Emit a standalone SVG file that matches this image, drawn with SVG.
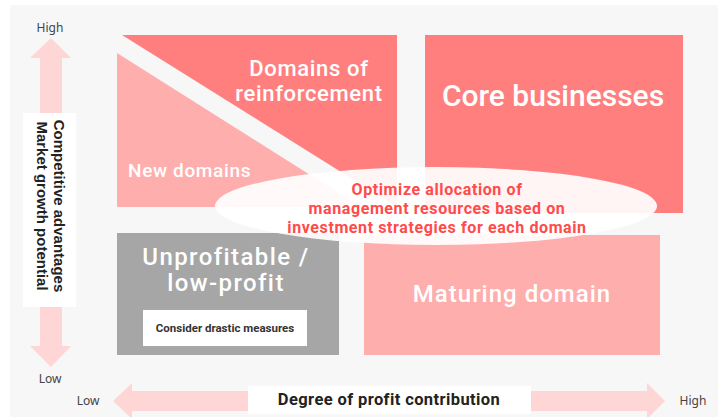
<svg xmlns="http://www.w3.org/2000/svg" width="718" height="417" viewBox="0 0 718 417">
<style>
.t{font-family:Roboto,"Noto Sans","Liberation Sans",sans-serif}
.w{fill:#ffffff;font-weight:500}
.ax{fill:#444444;font-size:12px;font-family:"Noto Sans","Liberation Sans",sans-serif}
.arrow{fill:#ffd6d6}
.dark{fill:#ff7f7f}
.light{fill:#ffaeae}
</style>
<rect x="10" y="5" width="708" height="412" fill="#f7f7f7"/>
<g id="arrows">
<polygon class="arrow" points="51,38 71,58 62,58 62,346 71,346 51,367 30,346 40,346 40,58 30,58"/>
<polygon class="arrow" points="113,401 132,383 132,391 647,391 647,383 665,401 647,419 647,411 132,411 132,419"/>
</g>
<g id="y-axis-label">
<rect x="23" y="113" width="53" height="194" fill="#ffffff"/>
<text transform="translate(54,206) rotate(90)" text-anchor="middle" font-family="Liberation Sans, Arial, sans-serif" font-size="15" font-weight="bold" fill="#222222"><tspan x="0" y="0">Competitive advantages</tspan><tspan x="0" y="17">Market growth potential</tspan></text>
</g>
<g id="x-axis-label">
<rect x="248" y="386" width="283" height="28" fill="#ffffff"/>
<text class="t" x="389" y="405" text-anchor="middle" font-size="16.5" font-weight="bold" letter-spacing="0.4" fill="#222222">Degree of profit contribution</text>
</g>
<text class="ax" x="50" y="32" text-anchor="middle">High</text>
<text class="ax" x="50" y="383" text-anchor="middle">Low</text>
<text class="ax" x="88" y="405" text-anchor="middle">Low</text>
<text class="ax" x="693" y="405" text-anchor="middle">High</text>
<g id="reinforcement">
<polygon class="dark" points="122,35 397,35 397,207"/>
<text class="t w" x="309" y="76" text-anchor="middle" font-size="22" letter-spacing="0.65">Domains of</text>
<text class="t w" x="309" y="101" text-anchor="middle" font-size="22" letter-spacing="0.65">reinforcement</text>
</g>
<g id="new-domains">
<polygon class="light" points="117,53 117,207 361,207"/>
<text class="t w" x="128" y="177" font-size="19" letter-spacing="0.65">New domains</text>
</g>
<g id="core">
<rect class="dark" x="425" y="35" width="258" height="178"/>
<text class="t w" x="553" y="106" text-anchor="middle" font-size="30">Core businesses</text>
</g>
<g id="unprofitable">
<rect x="117" y="233" width="222" height="122" fill="#a6a6a6"/>
<text class="t w" x="226" y="265" text-anchor="middle" font-size="24" letter-spacing="1.4">Unprofitable /</text>
<text class="t w" x="226" y="291" text-anchor="middle" font-size="24" letter-spacing="1.4">low-profit</text>
<rect x="143" y="310" width="164" height="36" fill="#ffffff"/>
<text class="t" x="225" y="332" text-anchor="middle" font-size="11.5" font-weight="bold" fill="#333333">Consider drastic measures</text>
</g>
<g id="maturing">
<rect class="light" x="364" y="235" width="296" height="120"/>
<text class="t w" x="512" y="302" text-anchor="middle" font-size="24" letter-spacing="1">Maturing domain</text>
</g>
<g id="optimize">
<ellipse cx="436" cy="206" rx="221" ry="39" fill="#ffffff" fill-opacity="0.92"/>
<text class="t" text-anchor="middle" font-size="16" font-weight="bold" letter-spacing="0.6" fill="#ff4b4b"><tspan x="437" y="195">Optimize allocation of</tspan><tspan x="437" y="214">management resources based on</tspan><tspan x="437" y="233">investment strategies for each domain</tspan></text>
</g>
</svg>
